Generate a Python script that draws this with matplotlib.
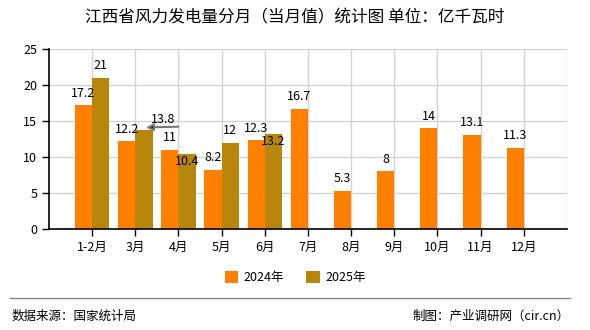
"""
江西省风力发电量分月（当月值）统计图
"""
import numpy as np
import matplotlib
matplotlib.use("Agg")
import matplotlib.pyplot as plt
from matplotlib.lines import Line2D

# Settings
plt.rcParams['font.family'] = ['Noto Sans CJK SC', 'DejaVu Sans']
plt.rcParams['axes.unicode_minus'] = False

# Data
months = ["1-2月", "3月", "4月", "5月", "6月", "7月", "8月", "9月", "10月", "11月", "12月"]
values_2024 = [17.2, 12.2, 11, 8.2, 12.3, 16.7, 5.3, 8, 14, 13.1, 11.3]
values_2025 = [21, 13.8, 10.4, 12, 13.2]
series_names = ["2024年", "2025年"]
y_ticks = [0, 5, 10, 15, 20, 25]

title = "江西省风力发电量分月（当月值）统计图 单位：亿千瓦时"
source_text = "数据来源：国家统计局"
credit_text = "制图：产业调研网（cir.cn）"

# Style
c_2024 = "#FF8000"
c_2025 = "#B8860B"
bar_w = 0.4


def fmt(v):
    return f"{v:g}"


def main():
    fig = plt.figure(figsize=(5.9, 3.3), dpi=100)
    ax = fig.add_axes([0.083, 0.306, 0.878, 0.546])

    x24 = np.arange(len(values_2024))
    x25 = np.arange(len(values_2025))
    ax.bar(x24 - bar_w / 2, values_2024, width=bar_w, color=c_2024, label=series_names[0], zorder=2)
    ax.bar(x25 + bar_w / 2, values_2025, width=bar_w, color=c_2025, label=series_names[1], zorder=2)

    # Axes
    ax.set_xlim(-1, 11)
    ax.set_ylim(0, 25)
    ax.set_yticks(y_ticks)
    ax.set_xticks(x24)
    ax.set_xticklabels(months, fontsize=9)
    ax.tick_params(axis='y', labelsize=9, length=5, width=1)
    ax.tick_params(axis='x', length=5, width=1)
    ax.grid(True, color="#d3d3d3", linewidth=1, zorder=0)
    ax.axvline(11, color="#d3d3d3", linewidth=1, zorder=0)
    for s in ["top", "right"]:
        ax.spines[s].set_visible(False)
    for s in ["left", "bottom"]:
        ax.spines[s].set_color("black")
        ax.spines[s].set_linewidth(1.2)

    # Value labels
    for x, v in zip(x24, values_2024):
        ax.annotate(fmt(v), (x - bar_w / 2, v), xytext=(0, 4), textcoords="offset points",
                    ha="center", va="bottom", fontsize=9, zorder=4)
    below = {2, 4}
    shifted = {1}
    for x, v in zip(x25, values_2025):
        if x in below:
            ax.annotate(fmt(v), (x + bar_w / 2, v), xytext=(0, -1), textcoords="offset points",
                        ha="center", va="top", fontsize=9, zorder=4)
        elif x in shifted:
            ax.annotate("", xy=(x + bar_w / 2 + 0.05, v + 0.3), xytext=(x + 1.0, v + 0.4),
                        arrowprops=dict(arrowstyle="-|>", color="#777777", fc="black", ec="#777777",
                                        lw=1.5, shrinkA=0, shrinkB=0, mutation_scale=10), zorder=4)
            ax.text(x + 0.65, v + 0.5, fmt(v), ha="center", va="bottom", fontsize=9, zorder=4)
        else:
            ax.annotate(fmt(v), (x + bar_w / 2, v), xytext=(0, 4), textcoords="offset points",
                        ha="center", va="bottom", fontsize=9, zorder=4)

    # Title, legend, footer
    fig.text(0.5, 0.945, title, ha="center", va="center", fontsize=12)
    fig.legend(loc="center", bbox_to_anchor=(0.5, 0.16), ncol=2, frameon=False,
               handlelength=1.1, handleheight=1.1, handletextpad=0.4, columnspacing=1.8,
               fontsize=9)
    fig.add_artist(Line2D([0.017, 0.966], [0.097, 0.097], color="#888888", linewidth=1))
    fig.text(0.019, 0.042, source_text, ha="left", va="center", fontsize=9)
    fig.text(0.966, 0.042, credit_text, ha="right", va="center", fontsize=9)

    fig.savefig("out.png", dpi=100, facecolor="white")
    plt.close(fig)


if __name__ == "__main__":
    main()
